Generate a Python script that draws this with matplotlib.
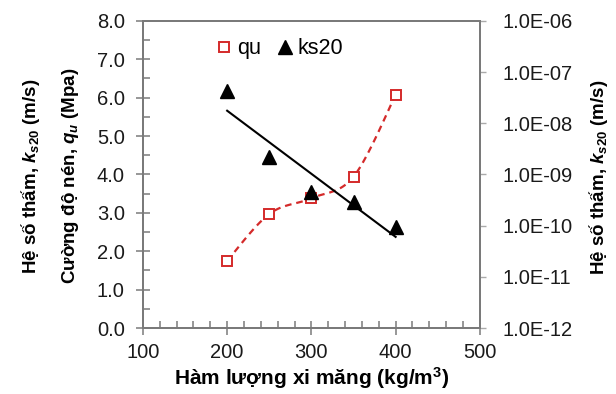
import numpy as np
import matplotlib
matplotlib.use('Agg')
from matplotlib import pyplot as plt
from matplotlib.ticker import MultipleLocator, FixedLocator, FuncFormatter, NullLocator

# data
cement = [200, 250, 300, 350, 400]
qu = [1.75, 2.97, 3.38, 3.94, 6.07]
ks20 = [4.2e-8, 2.2e-9, 4.5e-10, 2.9e-10, 9.6e-11]

x_ticks = [100, 200, 300, 400, 500]
qu_ticks = [0, 1, 2, 3, 4, 5, 6, 7, 8]
ks_ticks = [1e-12, 1e-11, 1e-10, 1e-9, 1e-8, 1e-7, 1e-6]

red = '#d42a2a'
gray = '#7a7a7a'

plt.rcParams['font.family'] = ['Liberation Sans', 'DejaVu Sans']
plt.rcParams['mathtext.fontset'] = 'custom'
plt.rcParams['mathtext.rm'] = 'Liberation Sans:bold'
plt.rcParams['mathtext.it'] = 'Liberation Sans:bold:italic'
plt.rcParams['mathtext.bf'] = 'Liberation Sans:bold'


def smooth(xs, ys, n=30):
    """Catmull-Rom curve through the points (like a smoothed line)"""
    px = [xs[0]] + list(xs) + [xs[-1]]
    py = [ys[0]] + list(ys) + [ys[-1]]
    ox, oy = [], []
    t = np.linspace(0, 1, n)
    for i in range(1, len(px) - 2):
        for p, out in ((px, ox), (py, oy)):
            p0, p1, p2, p3 = p[i - 1], p[i], p[i + 1], p[i + 2]
            out.extend(0.5 * ((2 * p1) + (-p0 + p2) * t
                              + (2 * p0 - 5 * p1 + 4 * p2 - p3) * t ** 2
                              + (-p0 + 3 * p1 - 3 * p2 + p3) * t ** 3))
    return ox, oy


fig = plt.figure(figsize=(6.16, 3.94), dpi=100)
ax = fig.add_axes([0.232, 0.1675, 0.547, 0.7795])
ax2 = ax.twinx()

# qu : dashed smooth curve + hollow squares
sx, sy = smooth(cement, qu)
ax.plot(sx, sy, '--', color=red, lw=1.6, dashes=(3, 2.2))
h1, = ax.plot(cement, qu, 's', ms=7.5, mfc='white', mec=red, mew=1.4,
              linestyle='none', label='qu')

# ks20 : triangles + exponential trend line
ax2.set_yscale('log')
h2, = ax2.plot(cement, ks20, '^', ms=9.5, color='black', linestyle='none',
               label='ks20')
coef = np.polyfit(cement, np.log10(ks20), 1)
tx = np.array([cement[0], cement[-1]])
ax2.plot(tx, 10 ** np.polyval(coef, tx), color='black', lw=1.5)

ax.set_xlim(100, 500)
ax.set_ylim(0, 8)
ax2.set_ylim(1e-12, 1e-6)

ax.xaxis.set_major_locator(FixedLocator(x_ticks))
ax.xaxis.set_minor_locator(MultipleLocator(20))
ax.yaxis.set_major_locator(FixedLocator(qu_ticks))
ax.yaxis.set_minor_locator(MultipleLocator(0.5))
ax.yaxis.set_major_formatter(FuncFormatter(lambda v, p: '%.1f' % v))
ax2.yaxis.set_major_locator(FixedLocator(ks_ticks))
ax2.yaxis.set_minor_locator(NullLocator())
ax2.yaxis.set_major_formatter(FuncFormatter(lambda v, p: '{:.1E}'.format(v)))

ax.tick_params(axis='both', which='major', direction='inout', length=10,
               width=1.1, color=gray, labelsize=14.5, labelcolor='#1a1a1a')
ax.tick_params(axis='x', which='major', pad=6)
ax.tick_params(axis='y', which='major', pad=8)
ax.tick_params(axis='both', which='minor', direction='in', length=5,
               width=1.1, color=gray)
ax2.tick_params(axis='y', which='major', direction='out', length=4,
                width=1.0, color='#aaaaaa', labelsize=14.5,
                labelcolor='#1a1a1a', pad=12)

for a in (ax, ax2):
    for s in a.spines.values():
        s.set_color(gray)
        s.set_linewidth(1.4)

ax2.legend(handles=[h1, h2], loc='upper left', bbox_to_anchor=(0.165, 0.985),
           ncol=2, frameon=False, fontsize=15.5, handletextpad=0.0,
           columnspacing=0.5, handlelength=1.2, borderaxespad=0.2)

"""axis titles"""
fig.text(0.506, 0.04, 'Hàm lượng xi măng (kg/m$^\\mathbf{3}$)', ha='center',
         va='center', fontsize=15, fontweight='bold')
fig.text(0.049, 0.553, 'Hệ số thấm, $\\mathit{k}_{\\mathit{s20}}$ (m/s)',
         rotation=90, ha='center', va='center', fontsize=13.5,
         fontweight='bold')
fig.text(0.114, 0.553, 'Cường độ nén, $\\mathit{q}_{\\mathit{u}}$ (Mpa)',
         rotation=90, ha='center', va='center', fontsize=13.5,
         fontweight='bold')
fig.text(0.971, 0.55, 'Hệ số thấm, $\\mathit{k}_{\\mathit{s20}}$ (m/s)',
         rotation=90, ha='center', va='center', fontsize=13.5,
         fontweight='bold')

fig.savefig('out.png', dpi=100)
